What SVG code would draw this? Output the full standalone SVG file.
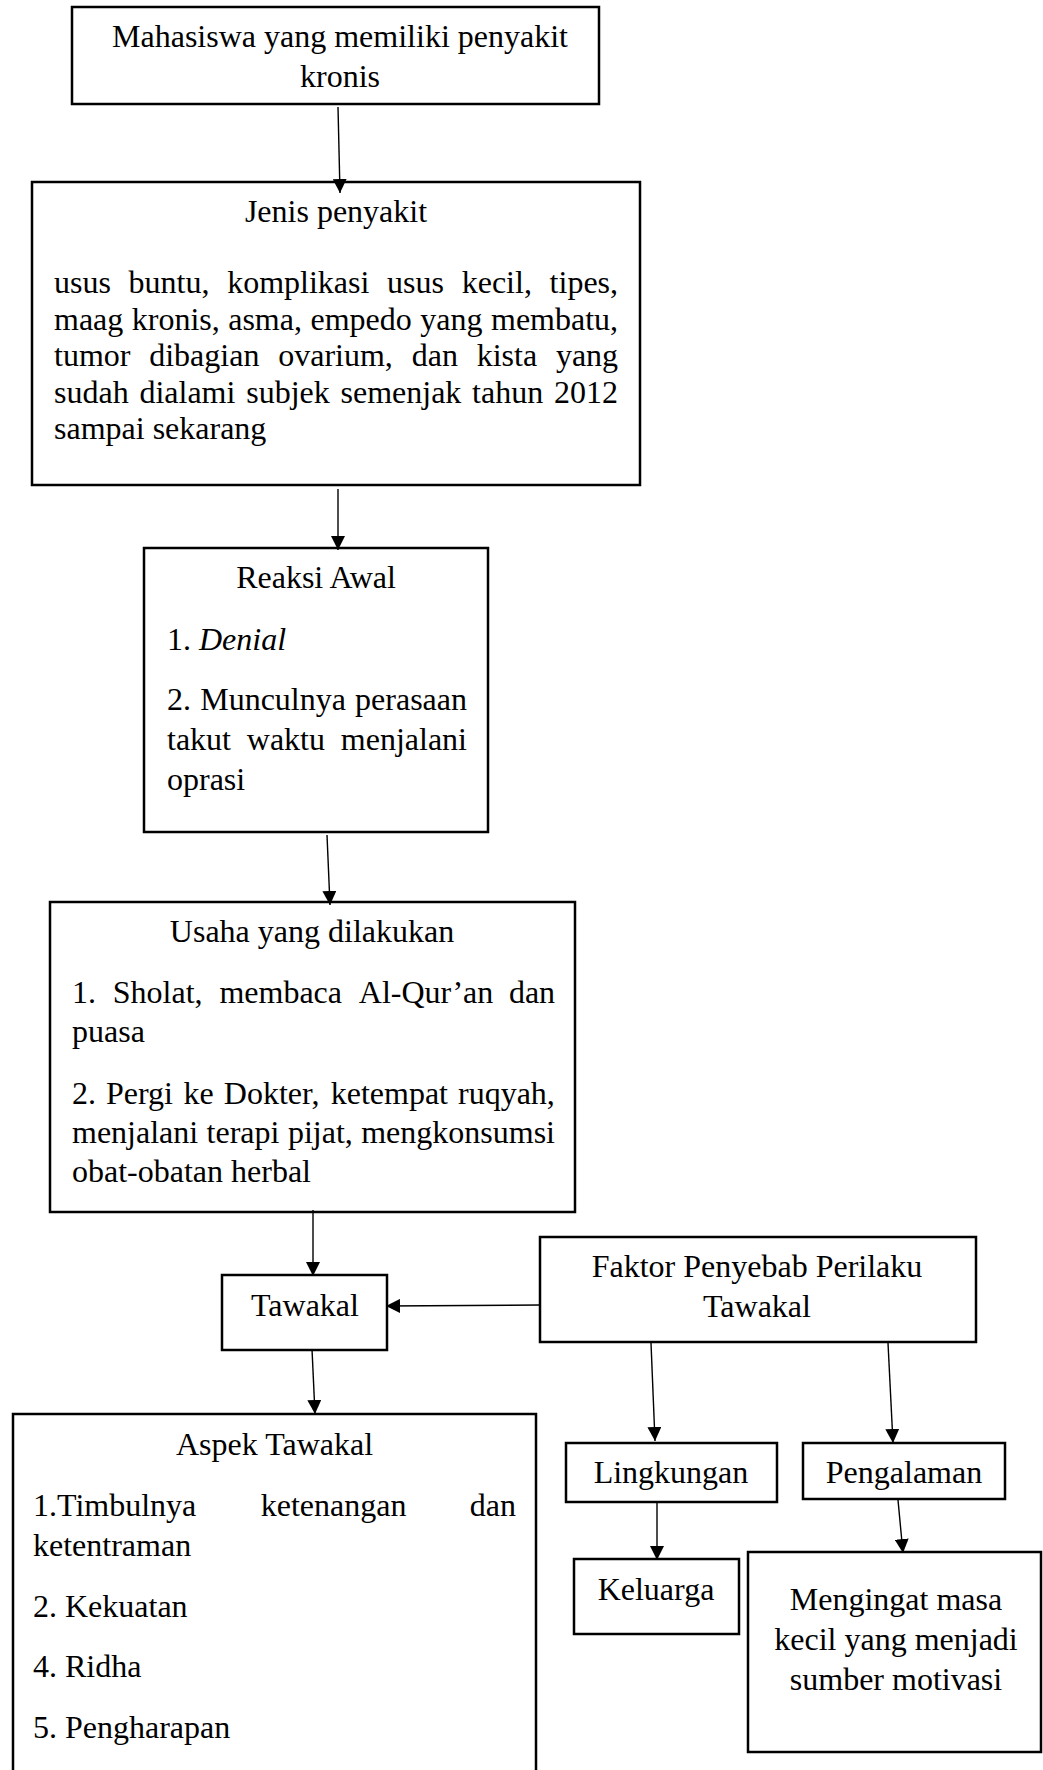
<svg xmlns="http://www.w3.org/2000/svg" width="1043" height="1770" viewBox="0 0 1043 1770">
<style>
.box{fill:#fff;stroke:#000;stroke-width:2.5}
.t{font-family:"Liberation Serif","Times New Roman",serif;font-size:32px;fill:#000}
.c{text-anchor:middle}
.con{fill:none;stroke:#000;stroke-width:1.4}
</style>
<defs>
<marker id="ah" markerUnits="userSpaceOnUse" markerWidth="14" markerHeight="14" viewBox="0 0 14 14" refX="14" refY="7" orient="auto">
<path d="M0,0 L14,7 L0,14 z" fill="#000"/>
</marker>
</defs>
<rect width="1043" height="1770" fill="#fff"/>

<g id="n1">
<rect class="box" x="72" y="7" width="527" height="97"/>
<text class="t c" x="340" y="47">Mahasiswa yang memiliki penyakit</text>
<text class="t c" x="340" y="87">kronis</text>
</g>

<g id="n2">
<rect class="box" x="32" y="182" width="608" height="303"/>
<text class="t c" x="336" y="222">Jenis penyakit</text>
<text class="t" y="293"><tspan x="54">usus</tspan><tspan x="128.6">buntu,</tspan><tspan x="227.2">komplikasi</tspan><tspan x="387.1">usus</tspan><tspan x="461.7">kecil,</tspan><tspan x="549.6">tipes,</tspan></text>
<text class="t" y="329.5"><tspan x="54">maag</tspan><tspan x="131.8">kronis,</tspan><tspan x="228.2">asma,</tspan><tspan x="310.5">empedo</tspan><tspan x="420.3">yang</tspan><tspan x="491">membatu,</tspan></text>
<text class="t" y="366"><tspan x="54">tumor</tspan><tspan x="149.2">dibagian</tspan><tspan x="278.2">ovarium,</tspan><tspan x="411.7">dan</tspan><tspan x="476.7">kista</tspan><tspan x="555.9">yang</tspan></text>
<text class="t" y="402.5"><tspan x="54">sudah</tspan><tspan x="139.4">dialami</tspan><tspan x="246.2">subjek</tspan><tspan x="340.5">semenjak</tspan><tspan x="472.1">tahun</tspan><tspan x="554">2012</tspan></text>
<text class="t" x="54" y="439">sampai sekarang</text>
</g>

<g id="n3">
<rect class="box" x="144" y="548" width="344" height="284"/>
<text class="t c" x="316" y="588">Reaksi Awal</text>
<text class="t" x="167" y="650">1. <tspan font-style="italic">Denial</tspan></text>
<text class="t" y="710"><tspan x="167">2.</tspan><tspan x="200.2">Munculnya</tspan><tspan x="355.1">perasaan</tspan></text>
<text class="t" y="750"><tspan x="167">takut</tspan><tspan x="246.8">waktu</tspan><tspan x="340.8">menjalani</tspan></text>
<text class="t" x="167" y="790">oprasi</text>
</g>

<g id="n4">
<rect class="box" x="50" y="902" width="525" height="310"/>
<text class="t c" x="312" y="942">Usaha yang dilakukan</text>
<text class="t" y="1003"><tspan x="72">1.</tspan><tspan x="112.8">Sholat,</tspan><tspan x="219.4">membaca</tspan><tspan x="358.8">Al-Qur’an</tspan><tspan x="508.9">dan</tspan></text>
<text class="t" x="72" y="1042">puasa</text>
<text class="t" y="1104"><tspan x="72">2.</tspan><tspan x="106">Pergi</tspan><tspan x="183.6">ke</tspan><tspan x="223.8">Dokter,</tspan><tspan x="330.7">ketempat</tspan><tspan x="458">ruqyah,</tspan></text>
<text class="t" y="1143"><tspan x="72">menjalani</tspan><tspan x="206.6">terapi</tspan><tspan x="287.9">pijat,</tspan><tspan x="361.2">mengkonsumsi</tspan></text>
<text class="t" x="72" y="1182">obat-obatan herbal</text>
</g>

<g id="n5">
<rect class="box" x="222" y="1275" width="165" height="75"/>
<text class="t c" x="305" y="1316">Tawakal</text>
</g>

<g id="n6">
<rect class="box" x="540" y="1237" width="436" height="105"/>
<text class="t c" x="757" y="1277">Faktor Penyebab Perilaku</text>
<text class="t c" x="757" y="1317">Tawakal</text>
</g>

<g id="n7">
<rect class="box" x="13" y="1414" width="523" height="370"/>
<text class="t c" x="274.5" y="1455">Aspek Tawakal</text>
<text class="t" y="1516"><tspan x="33">1.Timbulnya</tspan><tspan x="260.7">ketenangan</tspan><tspan x="469.7">dan</tspan></text>
<text class="t" x="33" y="1556">ketentraman</text>
<text class="t" x="33" y="1617">2. Kekuatan</text>
<text class="t" x="33" y="1677">4. Ridha</text>
<text class="t" x="33" y="1738">5. Pengharapan</text>
</g>

<g id="n8">
<rect class="box" x="566" y="1443" width="211" height="59"/>
<text class="t c" x="671" y="1483">Lingkungan</text>
</g>

<g id="n9">
<rect class="box" x="803" y="1443" width="202" height="56"/>
<text class="t c" x="904" y="1483">Pengalaman</text>
</g>

<g id="n10">
<rect class="box" x="574" y="1559" width="165" height="75"/>
<text class="t c" x="656" y="1600">Keluarga</text>
</g>

<g id="n11">
<rect class="box" x="748" y="1552" width="293" height="200"/>
<text class="t c" x="896" y="1610">Mengingat masa</text>
<text class="t c" x="896" y="1650">kecil yang menjadi</text>
<text class="t c" x="896" y="1690">sumber motivasi</text>
</g>

<g id="connectors">
<path class="con" marker-end="url(#ah)" d="M338,107 L340,193"/>
<path class="con" marker-end="url(#ah)" d="M338,489 L338,550"/>
<path class="con" marker-end="url(#ah)" d="M327,835 L330,905"/>
<path class="con" marker-end="url(#ah)" d="M313,1210 L313,1276"/>
<path class="con" marker-end="url(#ah)" d="M540,1305 L386,1306"/>
<path class="con" marker-end="url(#ah)" d="M312,1349 L315,1414"/>
<path class="con" marker-end="url(#ah)" d="M651,1343 L655,1441"/>
<path class="con" marker-end="url(#ah)" d="M888,1343 L893,1443"/>
<path class="con" marker-end="url(#ah)" d="M657,1503 L657,1560"/>
<path class="con" marker-end="url(#ah)" d="M898,1500 L903,1553"/>
</g>
</svg>
